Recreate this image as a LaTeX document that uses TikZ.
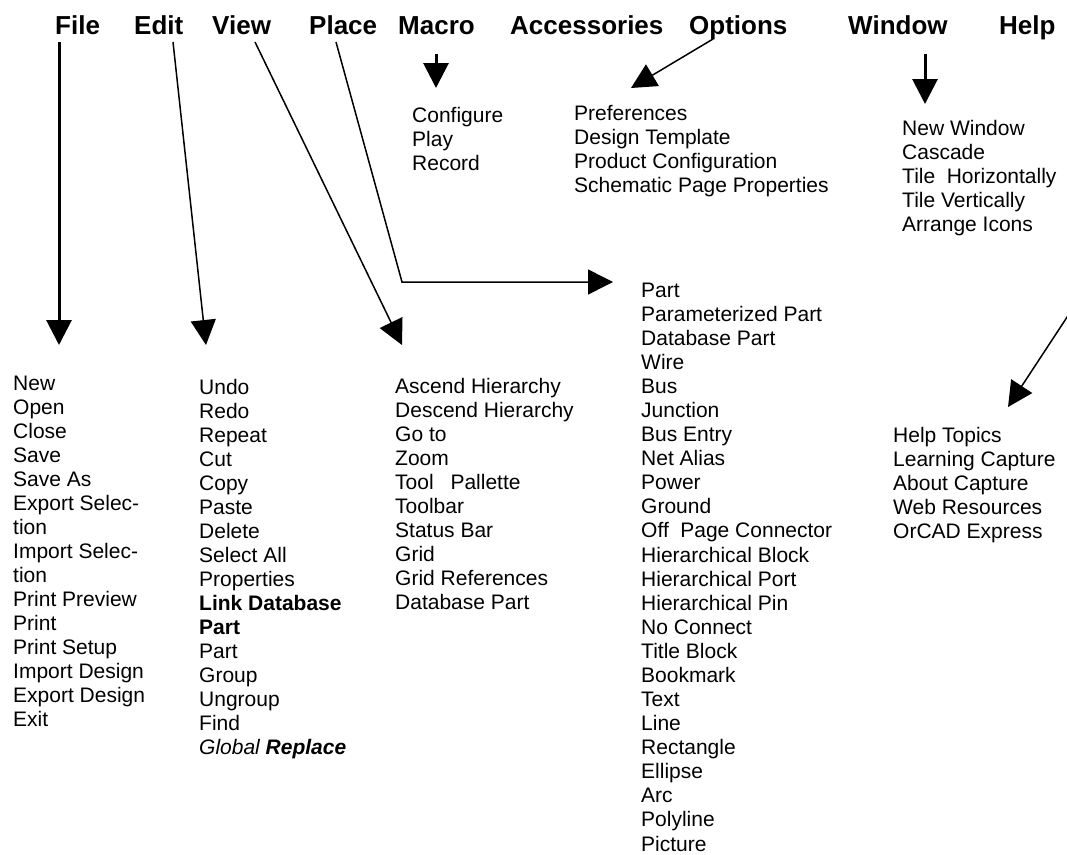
\documentclass[tikz,border=0pt]{standalone}
\usepackage{fontspec}
\setmainfont{Liberation Sans}
\usetikzlibrary{arrows.meta}
\begin{document}
\begin{tikzpicture}[x=1pt,y=-1pt,
  menu/.style={anchor=base west, inner sep=0pt, font=\fontsize{26}{30}\selectfont\bfseries},
  item/.style={anchor=base west, inner sep=0pt, font=\fontsize{21}{24}\selectfont},
  arr/.style={-{Triangle[length=25pt,width=25pt]}, line width=1.5pt},
  thickarr/.style={arr, line width=3pt}]
\fill[white] (0,0) rectangle (1067,854);
\useasboundingbox (0,0) rectangle (1067,854);

% menu bar
\node[menu] (file)   at (55,34)  {File};
\node[menu] (edit)   at (134,34) {Edit};
\node[menu] (view)   at (212,34) {View};
\node[menu] (place)  at (309,34) {Place};
\node[menu] (macro)  at (398,34) {Macro};
\node[menu] (acc)    at (510,34) {Accessories};
\node[menu] (opts)   at (689,34) {Options};
\node[menu] (window) at (848,34) {Window};
\node[menu] (help)   at (999,34) {Help};

% File menu
\foreach \t [count=\i] in {New,Open,Close,Save,Save As,Export Selec-,tion,Import Selec-,tion,
  Print Preview,Print,Print Setup,Import Design,Export Design,Exit}
  \node[item] (fileitem\i) at (13,{390+24*(\i-1)}) {\t};

% Edit menu
\foreach \t [count=\i] in {Undo,Redo,Repeat,Cut,Copy,Paste,Delete,Select All,Properties,
  {\bfseries Link Database},{\bfseries Part},Part,Group,Ungroup,Find,
  {\itshape Global \bfseries Replace}}
  \node[item] (edititem\i) at (199,{394+24*(\i-1)}) {\t};

% View menu
\foreach \t [count=\i] in {Ascend Hierarchy,Descend Hierarchy,Go to,Zoom,
  Tool\hspace{0.8em}Pallette,Toolbar,Status Bar,Grid,Grid References,Database Part}
  \node[item] (viewitem\i) at (395,{393+24*(\i-1)}) {\t};

% Place menu
\foreach \t [count=\i] in {Part,Parameterized Part,Database Part,Wire,Bus,Junction,Bus Entry,
  Net Alias,Power,Ground,Off\hspace{0.55em}Page Connector,Hierarchical Block,Hierarchical Port,
  Hierarchical Pin,No Connect,Title Block,Bookmark,Text,Line,Rectangle,Ellipse,Arc,Polyline,Picture}
  \node[item] (placeitem\i) at (641,{297+24.09*(\i-1)}) {\t};

% Macro menu
\foreach \t [count=\i] in {Configure,Play,Record}
  \node[item] (macroitem\i) at (412,{122+24*(\i-1)}) {\t};

% Options menu
\foreach \t [count=\i] in {Preferences,Design Template,Product Configuration,Schematic Page Properties}
  \node[item] (optsitem\i) at (574,{120+24*(\i-1)}) {\t};

% Window menu
\foreach \t [count=\i] in {New Window,Cascade,Tile\hspace{0.55em}Horizontally,Tile Vertically,Arrange Icons}
  \node[item] (winitem\i) at (902,{135+24*(\i-1)}) {\t};

% Help menu
\foreach \t [count=\i] in {Help Topics,Learning Capture,About Capture,Web Resources,OrCAD Express}
  \node[item] (helpitem\i) at (893,{442+24*(\i-1)}) {\t};

% arrow end points
\coordinate (fileS)  at (59,42);   \coordinate (fileT)  at (59,345);
\coordinate (editS)  at (173,42);  \coordinate (editT)  at (206,345);
\coordinate (viewS)  at (255,42);  \coordinate (viewT)  at (402,345);
\coordinate (placeS) at (336,42);  \coordinate (placeK) at (402,282);
\coordinate (placeT) at (613,282);
\coordinate (macroS) at (436,54);  \coordinate (macroT) at (436,88);
\coordinate (optsS)  at (713,39);  \coordinate (optsT)  at (631,88);
\coordinate (winS)   at (925,54);  \coordinate (winT)   at (925,104);
\coordinate (helpS)  at (1075,305); \coordinate (helpT) at (1008,407);

% arrows
\draw[thickarr] (fileS) -- (fileT);
\draw[arr] (editS) -- (editT);
\draw[arr] (viewS) -- (viewT);
\draw[arr] (placeS) -- (placeK) -- (placeT);
\draw[thickarr] (macroS) -- (macroT);
\draw[arr] (optsS) -- (optsT);
\draw[thickarr] (winS) -- (winT);
\draw[arr] (helpS) -- (helpT);
\end{tikzpicture}
\end{document}
